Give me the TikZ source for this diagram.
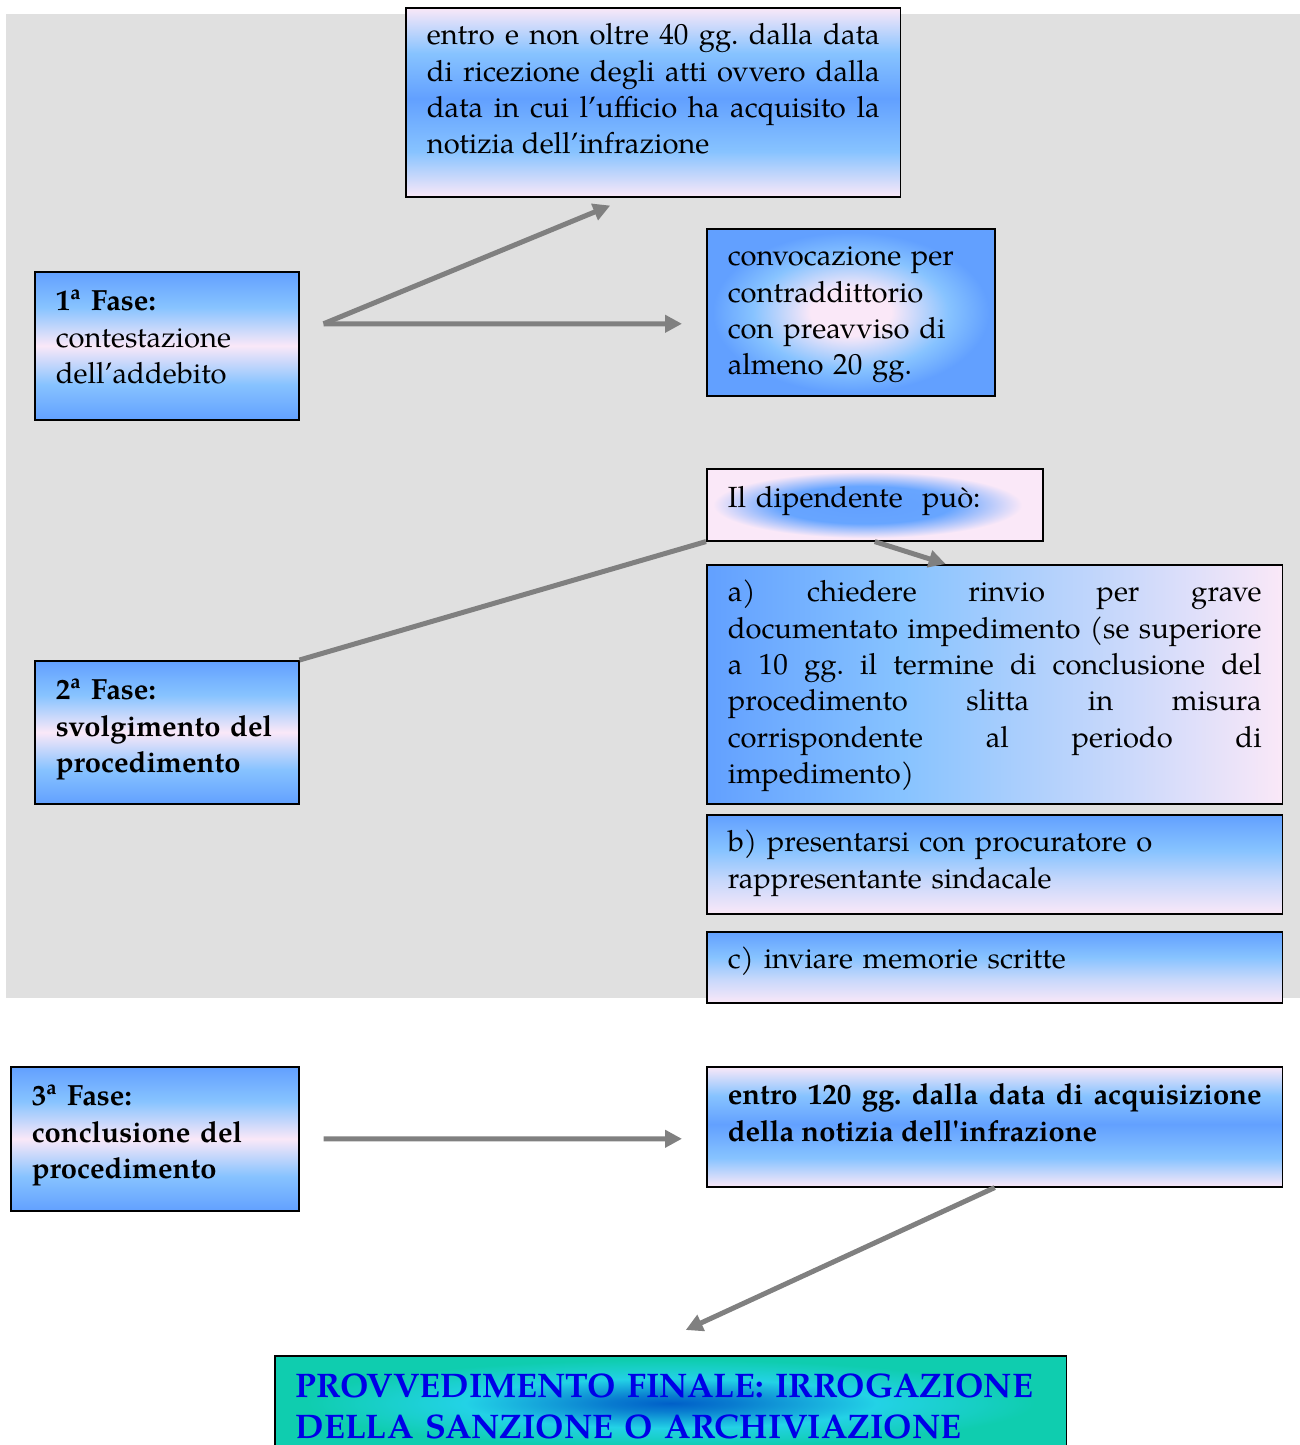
\documentclass[tikz,border=0pt]{standalone}
\usepackage{fontspec}
\setmainfont{TeX Gyre Pagella}
\usepackage{tikz}
\usetikzlibrary{arrows.meta}
\frenchspacing

\definecolor{blu}{RGB}{98,160,255}
\definecolor{azzurro}{RGB}{135,195,255}
\definecolor{rosa}{RGB}{250,232,248}
\definecolor{grigio}{RGB}{128,128,128}
\definecolor{sfondo}{RGB}{224,224,224}
\definecolor{blufin}{RGB}{0,0,230}
\definecolor{scuro}{RGB}{0,95,200}
\definecolor{ciano}{RGB}{35,210,230}
\definecolor{verdeacqua}{RGB}{15,205,175}

% sfumature delle caselle
\pgfdeclareverticalshading{bbb}{100bp}{color(0bp)=(blu); color(25bp)=(blu); color(37bp)=(azzurro);
  color(50bp)=(rosa); color(63bp)=(azzurro); color(75bp)=(blu); color(100bp)=(blu)}
\pgfdeclareverticalshading{rbr}{100bp}{color(0bp)=(rosa); color(25bp)=(rosa); color(37bp)=(azzurro);
  color(51bp)=(blu); color(63bp)=(azzurro); color(75bp)=(rosa); color(100bp)=(rosa)}
\pgfdeclareverticalshading{br}{100bp}{color(0bp)=(rosa); color(25bp)=(rosa); color(42bp)=(azzurro!45!rosa);
  color(57bp)=(azzurro); color(75bp)=(blu); color(100bp)=(blu)}
\pgfdeclarehorizontalshading{bblr}{100bp}{color(0bp)=(blu); color(25bp)=(blu); color(42bp)=(azzurro);
  color(75bp)=(rosa); color(100bp)=(rosa)}
\pgfdeclareradialshading{radrosa}{\pgfpoint{0bp}{0bp}}{color(0bp)=(rosa); color(7bp)=(rosa);
  color(17bp)=(azzurro); color(24bp)=(blu); color(50bp)=(blu)}
\pgfdeclareradialshading{radblu}{\pgfpoint{-2bp}{0bp}}{color(0bp)=(blu); color(13bp)=(blu!85!azzurro);
  color(23bp)=(rosa); color(50bp)=(rosa)}
\pgfdeclareradialshading{finale}{\pgfpoint{0bp}{0bp}}{color(0bp)=(scuro); color(4bp)=(scuro!75!ciano);
  color(13bp)=(ciano); color(23bp)=(verdeacqua); color(50bp)=(verdeacqua)}

\tikzset{
  cella/.style={draw=black, line width=0.9pt, anchor=north west, inner xsep=0.42cm,
    inner ysep=0pt, font=\fontsize{16.6}{20.7}\selectfont},
  freccia/.style={draw=grigio, line width=0.1cm, ->, >={Triangle[length=0.34cm,width=0.34cm]}},
  linea/.style={draw=grigio, line width=0.1cm}
}

\begin{document}
\begin{tikzpicture}[x=0.02cm, y=-0.02cm]
	\useasboundingbox (0,0) rectangle (1300,1445);
	\fill[sfondo] (6,14) rectangle (1300,998);

	% prima fase
	\node[cella, shading=rbr, text width=9.06cm, text height=0.74cm, text depth=3.04cm, align=justify] (t40) at (405,7)
		{entro e non oltre 40 gg. dalla data\linebreak di ricezione degli atti ovvero dalla\linebreak data in cui l’ufficio ha acquisito la\linebreak notizia dell’infrazione};
	\node[cella, shading=bbb, text width=4.44cm, text height=0.78cm, text depth=2.18cm, align=left] (f1) at (34,271)
		{\textbf{1\textsuperscript{a} Fase:}\\ contestazione\\ dell’addebito};
	\node[cella, shading=radrosa, text width=4.92cm, text height=0.74cm, text depth=2.6cm, align=left] (conv) at (706,228)
		{convocazione per\\ contraddittorio\\ con preavviso di\\ almeno 20 gg.};
	\draw[freccia] ([shift={(24,-22)}]f1.east) -- ([shift={(-43,8)}]t40.south);
	\draw[freccia] ([shift={(24,-22)}]f1.east) -- ([shift={(-24,11.5)}]conv.west);

	% seconda fase
	\node[cella, shading=bbb, text width=4.44cm, text height=0.78cm, text depth=2.08cm, align=left] (f2) at (34,660)
		{\textbf{2\textsuperscript{a} Fase:}\\ \textbf{svolgimento del}\\ \textbf{procedimento}};
	\node[cella, shading=radblu, text width=5.88cm, text height=0.78cm, text depth=0.66cm, align=left] (dip) at (706,468)
		{Il dipendente~~può:};
	\node[cella, shading=bblr, text width=10.68cm, text height=0.74cm, text depth=4.04cm, align=justify] (pa) at (706,564)
		{a) chiedere rinvio per grave\linebreak documentato impedimento (se superiore\linebreak a 10 gg. il termine di conclusione del\linebreak procedimento slitta in misura\linebreak corrispondente al periodo di\linebreak impedimento)};
	\node[cella, shading=br, text width=10.68cm, text height=0.74cm, text depth=1.24cm, align=left] (pb) at (706,814)
		{b) presentarsi con procuratore o\\ rappresentante sindacale};
	\node[cella, shading=br, text width=10.68cm, text height=0.74cm, text depth=0.68cm, align=left] (pc) at (706,931)
		{c) inviare memorie scritte};
	\draw[linea] (f2.north east) -- (dip.south west);
	\draw[freccia] (dip.south) -- ([shift={(-49,0)}]pa.north);

	% terza fase
	\node[cella, shading=bbb, text width=4.92cm, text height=0.78cm, text depth=2.1cm, align=left] (f3) at (10,1066)
		{\textbf{3\textsuperscript{a} Fase:}\\ \textbf{conclusione del}\\ \textbf{procedimento}};
	\node[cella, shading=rbr, text width=10.68cm, text height=0.76cm, text depth=1.64cm, align=justify, font=\fontsize{16.6}{20.7}\selectfont\bfseries] (t120) at (706,1066)
		{entro 120 gg. dalla data di acquisizione\linebreak della notizia dell\textquotesingle infrazione};
	\node[cella, shading=finale, text width=15cm, text height=0.84cm, text depth=1.06cm, align=left, text=blufin, font=\fontsize{19.4}{23.2}\selectfont\bfseries] (fin) at (274,1355)
		{\mbox{PROVVEDIMENTO FINALE: IRROGAZIONE}\\ \mbox{DELLA SANZIONE O ARCHIVIAZIONE}};
	\draw[freccia] ([shift={(24,0)}]f3.east) -- ([shift={(-24,12)}]t120.west);
	\draw[freccia] (t120.south) -- ([shift={(15,-25)}]fin.north);
\end{tikzpicture}
\end{document}
